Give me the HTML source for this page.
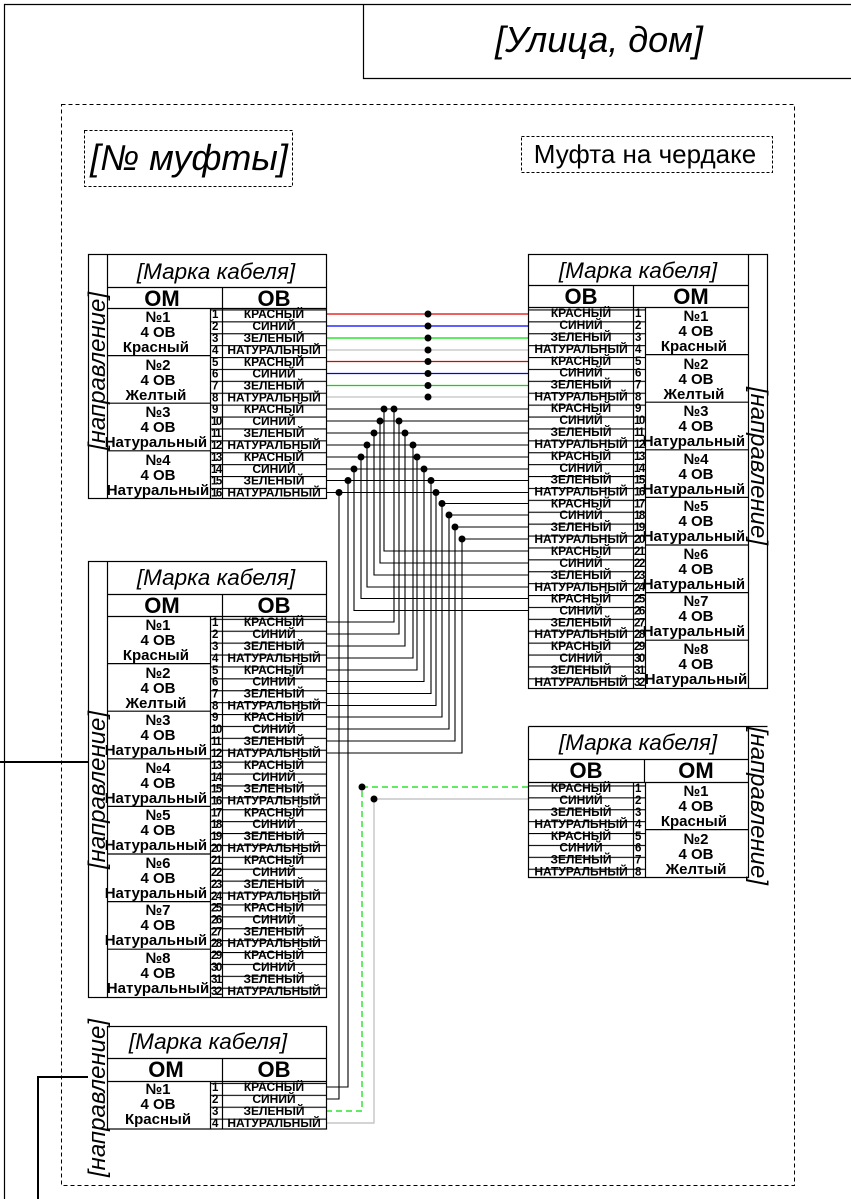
<!DOCTYPE html>
<html><head><meta charset="utf-8"><style>
html,body{margin:0;padding:0;background:#fff;}
svg{display:block;font-family:"Liberation Sans",Arial,sans-serif;}
.t{font-style:italic;font-size:22.5px;text-anchor:middle;}
.h{font-weight:bold;font-size:22px;text-anchor:middle;}
.n{font-weight:bold;font-size:12px;text-anchor:middle;}
.num{font-weight:bold;font-size:11.5px;letter-spacing:-1.5px;}
.om{font-weight:bold;font-size:15px;text-anchor:middle;}
.d{font-style:italic;font-size:24px;text-anchor:middle;}
.pl{shape-rendering:crispEdges;}
</style></head><body>
<svg width="851" height="1199" viewBox="0 0 851 1199" xmlns="http://www.w3.org/2000/svg">
<defs>
<pattern id="rows" width="20" height="11.9" patternUnits="userSpaceOnUse"><rect x="0" y="0" width="20" height="1.1" fill="#000"/></pattern>
</defs>
<rect width="851" height="1199" fill="#fff"/>
<path d="M4.5 1199 V4.5 H851" fill="none" stroke="#000" stroke-width="1.2"/>
<path d="M363.5 4.5 V78.5 H851" fill="none" stroke="#000" stroke-width="1.2"/>
<text x="599" y="52" style="font-style:italic;font-size:36px;text-anchor:middle">[Улица, дом]</text>
<rect x="61.5" y="104.5" width="733" height="1081" fill="none" stroke="#000" stroke-dasharray="4,3"/>
<rect x="84.5" y="130.5" width="208" height="56" fill="none" stroke="#000" stroke-dasharray="3,2"/>
<text x="189" y="170" style="font-style:italic;font-size:36px;text-anchor:middle">[№ муфты]</text>
<rect x="521.5" y="136.5" width="251" height="36" fill="none" stroke="#000" stroke-dasharray="3,2"/>
<text x="645" y="163" style="font-size:26px;text-anchor:middle">Муфта на чердаке</text>

<path d="M0 762 H88" stroke="#000" stroke-width="2"/>
<path d="M38 1199 V1077 H88" fill="none" stroke="#000" stroke-width="2"/>

<g stroke-width="1.2" fill="none">
<path d="M326 314H528" stroke="#e00000"/>
<path d="M326 326H528" stroke="#0000ff"/>
<path d="M326 338H528" stroke="#00e000"/>
<path d="M326 350H528" stroke="#c0c0c0"/>
<path d="M326 361.5H528" stroke="#e00000"/>
<path d="M326 373.5H528" stroke="#0000ff"/>
<path d="M326 385.5H528" stroke="#00e000"/>
<path d="M326 397H528" stroke="#c0c0c0"/>
</g>
<g stroke="#000" stroke-width="1.1" fill="none">
<path d="M326 409H528 M326 421H528 M326 433H528 M326 445H528 M326 457H528 M326 469H528 M326 480.5H528 M326 492.5H528"/>
<path d="M442 503.5H528 M449 515H528 M455 527H528 M462 539H528"/>
<path d="M394 409V622H326"/>
<path d="M399 421V634H326"/>
<path d="M405 433V646H326"/>
<path d="M413 445V658H326"/>
<path d="M417 457V670H326"/>
<path d="M424 469V681.5H326"/>
<path d="M431 480.5V693.5H326"/>
<path d="M436 492.5V705.5H326"/>
<path d="M442 503.5V717H326"/>
<path d="M449 515V729H326"/>
<path d="M455 527V741H326"/>
<path d="M462 539V753H326"/>
<path d="M384 409V551H528"/>
<path d="M380 421V563H528"/>
<path d="M374 433V575H528"/>
<path d="M367 445V587H528"/>
<path d="M361 457V598.5H528"/>
<path d="M354 469V610.5H528"/>
<path d="M348 480.5V1087H326"/>
<path d="M339 492.5V1099H326"/>
</g>
<path d="M528 787H362V1111H326" fill="none" stroke="#00e000" stroke-width="1.2" stroke-dasharray="6,4"/>
<path d="M528 799H374V1123H326" fill="none" stroke="#bbb" stroke-width="1.2"/>
<g fill="#000">
<circle cx="428" cy="314" r="3.5"/><circle cx="428" cy="326" r="3.5"/><circle cx="428" cy="338" r="3.5"/><circle cx="428" cy="350" r="3.5"/>
<circle cx="428" cy="361.5" r="3.5"/><circle cx="428" cy="373.5" r="3.5"/><circle cx="428" cy="385.5" r="3.5"/><circle cx="428" cy="397" r="3.5"/>
<circle cx="394" cy="409" r="3.5"/><circle cx="399" cy="421" r="3.5"/><circle cx="405" cy="433" r="3.5"/><circle cx="413" cy="445" r="3.5"/>
<circle cx="417" cy="457" r="3.5"/><circle cx="424" cy="469" r="3.5"/><circle cx="431" cy="480.5" r="3.5"/><circle cx="436" cy="492.5" r="3.5"/>
<circle cx="442" cy="503.5" r="3.5"/><circle cx="449" cy="515" r="3.5"/><circle cx="455" cy="527" r="3.5"/><circle cx="462" cy="539" r="3.5"/>
<circle cx="384" cy="409" r="3.5"/><circle cx="380" cy="421" r="3.5"/><circle cx="374" cy="433" r="3.5"/><circle cx="367" cy="445" r="3.5"/>
<circle cx="361" cy="457" r="3.5"/><circle cx="354" cy="469" r="3.5"/><circle cx="348" cy="480.5" r="3.5"/><circle cx="339" cy="492.5" r="3.5"/>
<circle cx="362" cy="787" r="3.5"/><circle cx="374" cy="799" r="3.5"/>
</g>

<!-- TABLE 1 -->
<g stroke="#000" fill="none" stroke-width="1.2">
<rect x="88.5" y="254.5" width="238" height="244"/>
<path d="M107.5 254.5V498.5 M107.5 287.5H326 M107.5 308.5H326 M222.5 287.5V308.5 M210.5 308.5V498.5 M222.5 308.5V498.5 M107.5 355.6H210 M107.5 403.2H210 M107.5 450.8H210"/>
</g>
<rect class="pl" x="210" y="308" width="116" height="190" fill="url(#rows)"/>
<text class="t" x="216" y="279">[Марка кабеля]</text>
<text class="h" x="162" y="306">ОМ</text><text class="h" x="274" y="306">ОВ</text>
<text class="d" transform="translate(105,371) rotate(-90)">[направление]</text>
<text class="om"><tspan x="158" y="322">№1</tspan><tspan x="158" y="337">4 ОВ</tspan><tspan x="158" y="352">Красный</tspan>
<tspan x="158" y="370">№2</tspan><tspan x="158" y="385">4 ОВ</tspan><tspan x="158" y="400">Желтый</tspan>
<tspan x="158" y="417">№3</tspan><tspan x="158" y="432">4 ОВ</tspan><tspan x="158" y="447">Натуральный</tspan>
<tspan x="158" y="465">№4</tspan><tspan x="158" y="480">4 ОВ</tspan><tspan x="158" y="495">Натуральный</tspan></text>
<text class="num"><tspan x="212" y="318">1</tspan><tspan x="212" y="330">2</tspan><tspan x="212" y="342">3</tspan><tspan x="212" y="354">4</tspan><tspan x="212" y="366">5</tspan><tspan x="212" y="377.5">6</tspan><tspan x="212" y="389.5">7</tspan><tspan x="212" y="401.5">8</tspan><tspan x="212" y="413">9</tspan><tspan x="211" y="425">10</tspan><tspan x="211" y="437">11</tspan><tspan x="211" y="449">12</tspan><tspan x="211" y="461">13</tspan><tspan x="211" y="473">14</tspan><tspan x="211" y="484.5">15</tspan><tspan x="211" y="496.5">16</tspan></text>
<text class="n"><tspan x="274" y="318">КРАСНЫЙ</tspan><tspan x="274" y="330">СИНИЙ</tspan><tspan x="274" y="342">ЗЕЛЕНЫЙ</tspan><tspan x="274" y="354">НАТУРАЛЬНЫЙ</tspan><tspan x="274" y="366">КРАСНЫЙ</tspan><tspan x="274" y="377.5">СИНИЙ</tspan><tspan x="274" y="389.5">ЗЕЛЕНЫЙ</tspan><tspan x="274" y="401.5">НАТУРАЛЬНЫЙ</tspan><tspan x="274" y="413">КРАСНЫЙ</tspan><tspan x="274" y="425">СИНИЙ</tspan><tspan x="274" y="437">ЗЕЛЕНЫЙ</tspan><tspan x="274" y="449">НАТУРАЛЬНЫЙ</tspan><tspan x="274" y="461">КРАСНЫЙ</tspan><tspan x="274" y="473">СИНИЙ</tspan><tspan x="274" y="484.5">ЗЕЛЕНЫЙ</tspan><tspan x="274" y="496.5">НАТУРАЛЬНЫЙ</tspan></text>

<!-- TABLE 2 -->
<g stroke="#000" fill="none" stroke-width="1.2">
<rect x="528.5" y="254.5" width="239" height="434"/>
<path d="M748.5 254.5V688.5 M528.5 285.5H748 M528.5 307.5H748 M633.5 285.5V307.5 M633.5 307.5V688 M645.5 307.5V688 M645 354.6H748 M645 402.2H748 M645 449.8H748 M645 497.4H748 M645 545H748 M645 592.6H748 M645 640.2H748"/>
</g>
<rect class="pl" x="528" y="307" width="117" height="381" fill="url(#rows)"/>
<text class="t" x="638" y="278">[Марка кабеля]</text>
<text class="h" x="581" y="304">ОВ</text><text class="h" x="691" y="304">ОМ</text>
<text class="d" transform="translate(751,466) rotate(90)">[направление]</text>
<text class="om"><tspan x="696" y="321">№1</tspan><tspan x="696" y="336">4 ОВ</tspan><tspan x="696" y="351">Красный</tspan>
<tspan x="696" y="369">№2</tspan><tspan x="696" y="384">4 ОВ</tspan><tspan x="696" y="399">Желтый</tspan>
<tspan x="696" y="416">№3</tspan><tspan x="696" y="431">4 ОВ</tspan><tspan x="696" y="446">Натуральный</tspan>
<tspan x="696" y="464">№4</tspan><tspan x="696" y="479">4 ОВ</tspan><tspan x="696" y="494">Натуральный</tspan>
<tspan x="696" y="511">№5</tspan><tspan x="696" y="526">4 ОВ</tspan><tspan x="696" y="541">Натуральный</tspan>
<tspan x="696" y="559">№6</tspan><tspan x="696" y="574">4 ОВ</tspan><tspan x="696" y="589">Натуральный</tspan>
<tspan x="696" y="606">№7</tspan><tspan x="696" y="621">4 ОВ</tspan><tspan x="696" y="636">Натуральный</tspan>
<tspan x="696" y="654">№8</tspan><tspan x="696" y="669">4 ОВ</tspan><tspan x="696" y="684">Натуральный</tspan></text>
<text class="num"><tspan x="635" y="317">1</tspan><tspan x="635" y="329">2</tspan><tspan x="635" y="341">3</tspan><tspan x="635" y="353">4</tspan><tspan x="635" y="365">5</tspan><tspan x="635" y="376.5">6</tspan><tspan x="635" y="388.5">7</tspan><tspan x="635" y="400.5">8</tspan><tspan x="635" y="412">9</tspan><tspan x="634" y="424">10</tspan><tspan x="634" y="436">11</tspan><tspan x="634" y="448">12</tspan><tspan x="634" y="460">13</tspan><tspan x="634" y="472">14</tspan><tspan x="634" y="483.5">15</tspan><tspan x="634" y="495.5">16</tspan><tspan x="634" y="507.5">17</tspan><tspan x="634" y="519">18</tspan><tspan x="634" y="531">19</tspan><tspan x="634" y="543">20</tspan><tspan x="634" y="555">21</tspan><tspan x="634" y="567">22</tspan><tspan x="634" y="579">23</tspan><tspan x="634" y="591">24</tspan><tspan x="634" y="602.5">25</tspan><tspan x="634" y="614.5">26</tspan><tspan x="634" y="626.5">27</tspan><tspan x="634" y="638">28</tspan><tspan x="634" y="650">29</tspan><tspan x="634" y="662">30</tspan><tspan x="634" y="674">31</tspan><tspan x="634" y="686">32</tspan></text>
<text class="n"><tspan x="581" y="317">КРАСНЫЙ</tspan><tspan x="581" y="329">СИНИЙ</tspan><tspan x="581" y="341">ЗЕЛЕНЫЙ</tspan><tspan x="581" y="353">НАТУРАЛЬНЫЙ</tspan><tspan x="581" y="365">КРАСНЫЙ</tspan><tspan x="581" y="376.5">СИНИЙ</tspan><tspan x="581" y="388.5">ЗЕЛЕНЫЙ</tspan><tspan x="581" y="400.5">НАТУРАЛЬНЫЙ</tspan><tspan x="581" y="412">КРАСНЫЙ</tspan><tspan x="581" y="424">СИНИЙ</tspan><tspan x="581" y="436">ЗЕЛЕНЫЙ</tspan><tspan x="581" y="448">НАТУРАЛЬНЫЙ</tspan><tspan x="581" y="460">КРАСНЫЙ</tspan><tspan x="581" y="472">СИНИЙ</tspan><tspan x="581" y="483.5">ЗЕЛЕНЫЙ</tspan><tspan x="581" y="495.5">НАТУРАЛЬНЫЙ</tspan><tspan x="581" y="507.5">КРАСНЫЙ</tspan><tspan x="581" y="519">СИНИЙ</tspan><tspan x="581" y="531">ЗЕЛЕНЫЙ</tspan><tspan x="581" y="543">НАТУРАЛЬНЫЙ</tspan><tspan x="581" y="555">КРАСНЫЙ</tspan><tspan x="581" y="567">СИНИЙ</tspan><tspan x="581" y="579">ЗЕЛЕНЫЙ</tspan><tspan x="581" y="591">НАТУРАЛЬНЫЙ</tspan><tspan x="581" y="602.5">КРАСНЫЙ</tspan><tspan x="581" y="614.5">СИНИЙ</tspan><tspan x="581" y="626.5">ЗЕЛЕНЫЙ</tspan><tspan x="581" y="638">НАТУРАЛЬНЫЙ</tspan><tspan x="581" y="650">КРАСНЫЙ</tspan><tspan x="581" y="662">СИНИЙ</tspan><tspan x="581" y="674">ЗЕЛЕНЫЙ</tspan><tspan x="581" y="686">НАТУРАЛЬНЫЙ</tspan></text>

<!-- TABLE 3 -->
<g stroke="#000" fill="none" stroke-width="1.2">
<rect x="88.5" y="561.5" width="238" height="436"/>
<path d="M107.5 561.5V997.5 M107.5 594.5H326 M107.5 616.5H326 M222.5 594.5V616.5 M210.5 616.5V997 M222.5 616.5V997 M107 663.6H210 M107 711.2H210 M107 758.8H210 M107 806.4H210 M107 854H210 M107 901.6H210 M107 949.2H210"/>
</g>
<rect class="pl" x="210" y="616" width="116" height="381" fill="url(#rows)"/>
<text class="t" x="216" y="585">[Марка кабеля]</text>
<text class="h" x="162" y="613">ОМ</text><text class="h" x="274" y="613">ОВ</text>
<text class="d" transform="translate(105,790) rotate(-90)">[направление]</text>
<text class="om"><tspan x="158" y="630">№1</tspan><tspan x="158" y="645">4 ОВ</tspan><tspan x="158" y="660">Красный</tspan>
<tspan x="158" y="678">№2</tspan><tspan x="158" y="693">4 ОВ</tspan><tspan x="158" y="708">Желтый</tspan>
<tspan x="158" y="725">№3</tspan><tspan x="158" y="740">4 ОВ</tspan><tspan x="158" y="755">Натуральный</tspan>
<tspan x="158" y="773">№4</tspan><tspan x="158" y="788">4 ОВ</tspan><tspan x="158" y="803">Натуральный</tspan>
<tspan x="158" y="820">№5</tspan><tspan x="158" y="835">4 ОВ</tspan><tspan x="158" y="850">Натуральный</tspan>
<tspan x="158" y="868">№6</tspan><tspan x="158" y="883">4 ОВ</tspan><tspan x="158" y="898">Натуральный</tspan>
<tspan x="158" y="915">№7</tspan><tspan x="158" y="930">4 ОВ</tspan><tspan x="158" y="945">Натуральный</tspan>
<tspan x="158" y="963">№8</tspan><tspan x="158" y="978">4 ОВ</tspan><tspan x="158" y="993">Натуральный</tspan></text>
<text class="num"><tspan x="212" y="626">1</tspan><tspan x="212" y="638">2</tspan><tspan x="212" y="650">3</tspan><tspan x="212" y="662">4</tspan><tspan x="212" y="674">5</tspan><tspan x="212" y="685.5">6</tspan><tspan x="212" y="697.5">7</tspan><tspan x="212" y="709.5">8</tspan><tspan x="212" y="721">9</tspan><tspan x="211" y="733">10</tspan><tspan x="211" y="745">11</tspan><tspan x="211" y="757">12</tspan><tspan x="211" y="769">13</tspan><tspan x="211" y="781">14</tspan><tspan x="211" y="792.5">15</tspan><tspan x="211" y="804.5">16</tspan><tspan x="211" y="816.5">17</tspan><tspan x="211" y="828">18</tspan><tspan x="211" y="840">19</tspan><tspan x="211" y="852">20</tspan><tspan x="211" y="864">21</tspan><tspan x="211" y="876">22</tspan><tspan x="211" y="888">23</tspan><tspan x="211" y="900">24</tspan><tspan x="211" y="911.5">25</tspan><tspan x="211" y="923.5">26</tspan><tspan x="211" y="935.5">27</tspan><tspan x="211" y="947">28</tspan><tspan x="211" y="959">29</tspan><tspan x="211" y="971">30</tspan><tspan x="211" y="983">31</tspan><tspan x="211" y="995">32</tspan></text>
<text class="n"><tspan x="274" y="626">КРАСНЫЙ</tspan><tspan x="274" y="638">СИНИЙ</tspan><tspan x="274" y="650">ЗЕЛЕНЫЙ</tspan><tspan x="274" y="662">НАТУРАЛЬНЫЙ</tspan><tspan x="274" y="674">КРАСНЫЙ</tspan><tspan x="274" y="685.5">СИНИЙ</tspan><tspan x="274" y="697.5">ЗЕЛЕНЫЙ</tspan><tspan x="274" y="709.5">НАТУРАЛЬНЫЙ</tspan><tspan x="274" y="721">КРАСНЫЙ</tspan><tspan x="274" y="733">СИНИЙ</tspan><tspan x="274" y="745">ЗЕЛЕНЫЙ</tspan><tspan x="274" y="757">НАТУРАЛЬНЫЙ</tspan><tspan x="274" y="769">КРАСНЫЙ</tspan><tspan x="274" y="781">СИНИЙ</tspan><tspan x="274" y="792.5">ЗЕЛЕНЫЙ</tspan><tspan x="274" y="804.5">НАТУРАЛЬНЫЙ</tspan><tspan x="274" y="816.5">КРАСНЫЙ</tspan><tspan x="274" y="828">СИНИЙ</tspan><tspan x="274" y="840">ЗЕЛЕНЫЙ</tspan><tspan x="274" y="852">НАТУРАЛЬНЫЙ</tspan><tspan x="274" y="864">КРАСНЫЙ</tspan><tspan x="274" y="876">СИНИЙ</tspan><tspan x="274" y="888">ЗЕЛЕНЫЙ</tspan><tspan x="274" y="900">НАТУРАЛЬНЫЙ</tspan><tspan x="274" y="911.5">КРАСНЫЙ</tspan><tspan x="274" y="923.5">СИНИЙ</tspan><tspan x="274" y="935.5">ЗЕЛЕНЫЙ</tspan><tspan x="274" y="947">НАТУРАЛЬНЫЙ</tspan><tspan x="274" y="959">КРАСНЫЙ</tspan><tspan x="274" y="971">СИНИЙ</tspan><tspan x="274" y="983">ЗЕЛЕНЫЙ</tspan><tspan x="274" y="995">НАТУРАЛЬНЫЙ</tspan></text>

<!-- TABLE 4 -->
<g stroke="#000" fill="none" stroke-width="1.2">
<path d="M528.5 726.5H767.5 M528.5 726.5V877.5H748.5V726.5 M528.5 759.5H748 M528.5 782.5H748 M644.5 759.5V782.5 M633.5 782.5V877 M645.5 782.5V877 M645 829.6H748"/>
</g>
<rect class="pl" x="528" y="782" width="117" height="95" fill="url(#rows)"/>
<text class="t" x="638" y="750">[Марка кабеля]</text>
<text class="h" x="586" y="778">ОВ</text><text class="h" x="696" y="778">ОМ</text>
<text class="d" transform="translate(751,806) rotate(90)">[направление]</text>
<text class="om"><tspan x="696" y="796">№1</tspan><tspan x="696" y="811">4 ОВ</tspan><tspan x="696" y="826">Красный</tspan>
<tspan x="696" y="844">№2</tspan><tspan x="696" y="859">4 ОВ</tspan><tspan x="696" y="874">Желтый</tspan></text>
<text class="num"><tspan x="635" y="792">1</tspan><tspan x="635" y="804">2</tspan><tspan x="635" y="816">3</tspan><tspan x="635" y="828">4</tspan><tspan x="635" y="840">5</tspan><tspan x="635" y="851.5">6</tspan><tspan x="635" y="863.5">7</tspan><tspan x="635" y="875.5">8</tspan></text>
<text class="n"><tspan x="581" y="792">КРАСНЫЙ</tspan><tspan x="581" y="804">СИНИЙ</tspan><tspan x="581" y="816">ЗЕЛЕНЫЙ</tspan><tspan x="581" y="828">НАТУРАЛЬНЫЙ</tspan><tspan x="581" y="840">КРАСНЫЙ</tspan><tspan x="581" y="851.5">СИНИЙ</tspan><tspan x="581" y="863.5">ЗЕЛЕНЫЙ</tspan><tspan x="581" y="875.5">НАТУРАЛЬНЫЙ</tspan></text>

<!-- TABLE 5 -->
<g stroke="#000" fill="none" stroke-width="1.2">
<rect x="107.5" y="1026.5" width="219" height="102.5"/>
<path d="M107.5 1058.5H326 M107.5 1081.5H326 M222.5 1058.5V1081.5 M210.5 1081.5V1129 M222.5 1081.5V1129"/>
</g>
<rect class="pl" x="210" y="1081" width="116" height="48" fill="url(#rows)"/>
<text class="t" x="208" y="1049">[Марка кабеля]</text>
<text class="h" x="166" y="1077">ОМ</text><text class="h" x="274" y="1077">ОВ</text>
<text class="d" transform="translate(105,1098) rotate(-90)">[направление]</text>
<text class="om"><tspan x="158" y="1094">№1</tspan><tspan x="158" y="1109">4 ОВ</tspan><tspan x="158" y="1124">Красный</tspan></text>
<text class="num"><tspan x="212" y="1091">1</tspan><tspan x="212" y="1103">2</tspan><tspan x="212" y="1115">3</tspan><tspan x="212" y="1127">4</tspan></text>
<text class="n"><tspan x="274" y="1091">КРАСНЫЙ</tspan><tspan x="274" y="1103">СИНИЙ</tspan><tspan x="274" y="1115">ЗЕЛЕНЫЙ</tspan><tspan x="274" y="1127">НАТУРАЛЬНЫЙ</tspan></text>
</svg>
</body></html>
